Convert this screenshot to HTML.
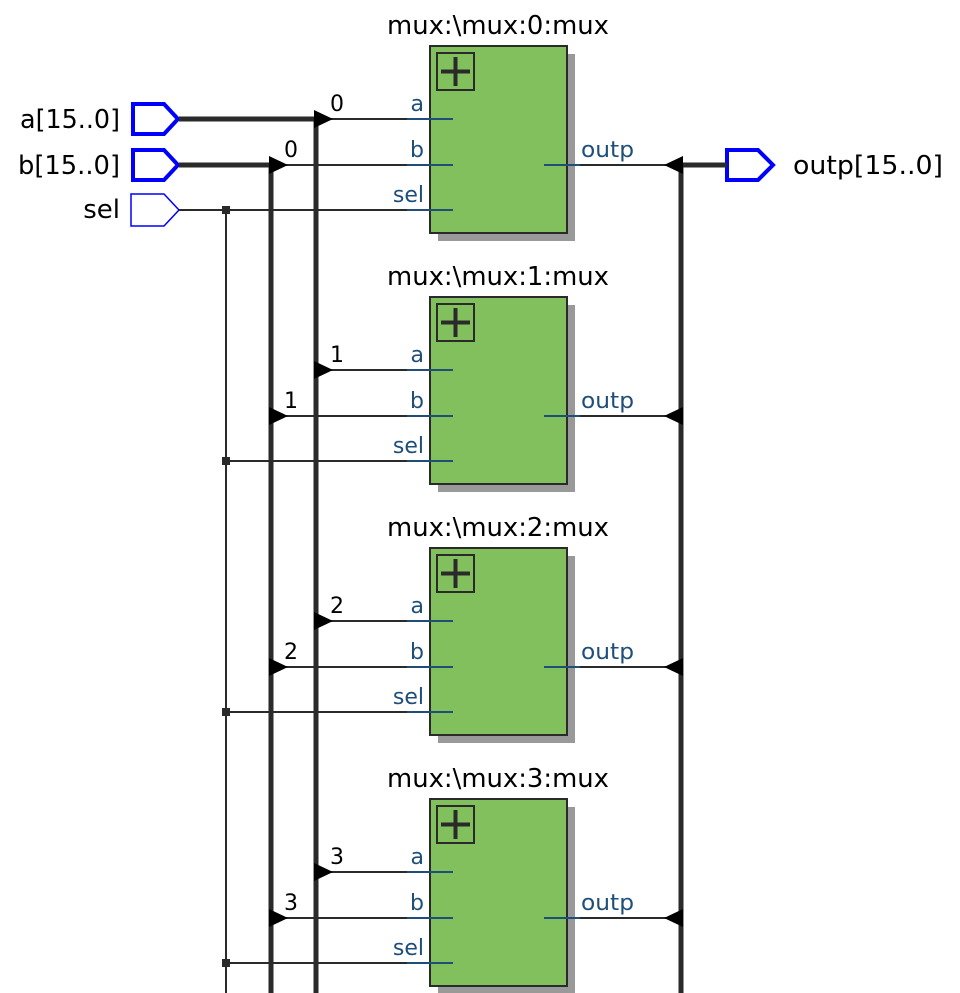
<!DOCTYPE html>
<html><head><meta charset="utf-8"><style>html,body{margin:0;padding:0;background:#fff}svg{display:block}</style></head>
<body>
<svg width="960" height="993" viewBox="0 0 960 993" xmlns="http://www.w3.org/2000/svg" font-family="'DejaVu Sans','Liberation Sans',sans-serif">
<defs>
<g id="blk">
<rect x="438" y="54" width="137" height="187" fill="#999"/>
<rect x="430" y="46" width="137" height="187" fill="#82c05e" stroke="#2a2a2a" stroke-width="2"/>
<rect x="437" y="53" width="37" height="37" fill="none" stroke="#2a2a2a" stroke-width="2"/>
<line x1="441" y1="71.5" x2="470" y2="71.5" stroke="#2a2a2a" stroke-width="4"/>
<line x1="455.5" y1="57" x2="455.5" y2="86" stroke="#2a2a2a" stroke-width="4"/>
<line x1="316" y1="119" x2="407" y2="119" stroke="#2a2a2a" stroke-width="2"/>
<line x1="271" y1="165" x2="407" y2="165" stroke="#2a2a2a" stroke-width="2"/>
<line x1="226" y1="210" x2="407" y2="210" stroke="#2a2a2a" stroke-width="2"/>
<line x1="580" y1="165" x2="681" y2="165" stroke="#2a2a2a" stroke-width="2"/>
<line x1="407" y1="119" x2="453" y2="119" stroke="#1f4e79" stroke-width="2"/>
<line x1="407" y1="165" x2="453" y2="165" stroke="#1f4e79" stroke-width="2"/>
<line x1="407" y1="210" x2="453" y2="210" stroke="#1f4e79" stroke-width="2"/>
<line x1="544" y1="165" x2="580" y2="165" stroke="#1f4e79" stroke-width="2"/>
<polygon points="314,110 333,119 314,128" fill="#000"/>
<polygon points="269,156 288,165 269,174" fill="#000"/>
<polygon points="683,156 664,165 683,174" fill="#000"/>
<rect x="222" y="206" width="8" height="8" fill="#2a2a2a"/>
<g font-size="22" fill="#1f4e79">
<text x="424" y="111" text-anchor="end">a</text>
<text x="424" y="157" text-anchor="end">b</text>
<text x="424" y="202" text-anchor="end">sel</text>
<text x="581" y="157" textLength="53" lengthAdjust="spacingAndGlyphs">outp</text>
</g>
</g>
</defs>
<g fill="#fff" stroke="#0000ff">
<polygon points="133,104 164,104 178,119 164,134 133,134" stroke-width="4"/>
<polygon points="133,150 164,150 178,165 164,180 133,180" stroke-width="4"/>
<polygon points="131,194 164,194 179,210 164,226 131,226" stroke-width="1.5"/>
<polygon points="727,150 758,150 773,165 758,180 727,180" stroke-width="4"/>
</g>
<g font-size="26" fill="#000">
<text x="120" y="128" text-anchor="end" textLength="100" lengthAdjust="spacingAndGlyphs">a[15..0]</text>
<text x="120" y="174" text-anchor="end" textLength="102" lengthAdjust="spacingAndGlyphs">b[15..0]</text>
<text x="120" y="218" text-anchor="end">sel</text>
<text x="793" y="174" textLength="150" lengthAdjust="spacingAndGlyphs">outp[15..0]</text>
</g>
<g stroke="#2a2a2a" fill="none">
<line x1="179" y1="119" x2="316" y2="119" stroke-width="5"/>
<line x1="179" y1="165" x2="271" y2="165" stroke-width="5"/>
<line x1="316" y1="117" x2="316" y2="993" stroke-width="5"/>
<line x1="271" y1="163" x2="271" y2="993" stroke-width="5"/>
<line x1="681" y1="163" x2="681" y2="993" stroke-width="5"/>
<line x1="681" y1="165" x2="727" y2="165" stroke-width="5"/>
<line x1="179" y1="210" x2="226" y2="210" stroke-width="2"/>
<line x1="226" y1="210" x2="226" y2="993" stroke-width="2"/>
</g>
<use href="#blk"/>
<use href="#blk" y="251"/>
<use href="#blk" y="502"/>
<use href="#blk" y="753"/>
<g font-size="26" fill="#000" text-anchor="middle">
<text x="498" y="34" textLength="222" lengthAdjust="spacingAndGlyphs">mux:\mux:0:mux</text>
<text x="498" y="285" textLength="222" lengthAdjust="spacingAndGlyphs">mux:\mux:1:mux</text>
<text x="498" y="536" textLength="222" lengthAdjust="spacingAndGlyphs">mux:\mux:2:mux</text>
<text x="498" y="787" textLength="222" lengthAdjust="spacingAndGlyphs">mux:\mux:3:mux</text>
</g>
<g font-size="22" fill="#000">
<text x="330" y="111">0</text><text x="284" y="157">0</text>
<text x="330" y="362">1</text><text x="284" y="408">1</text>
<text x="330" y="613">2</text><text x="284" y="659">2</text>
<text x="330" y="864">3</text><text x="284" y="910">3</text>
</g>
</svg>
</body></html>
